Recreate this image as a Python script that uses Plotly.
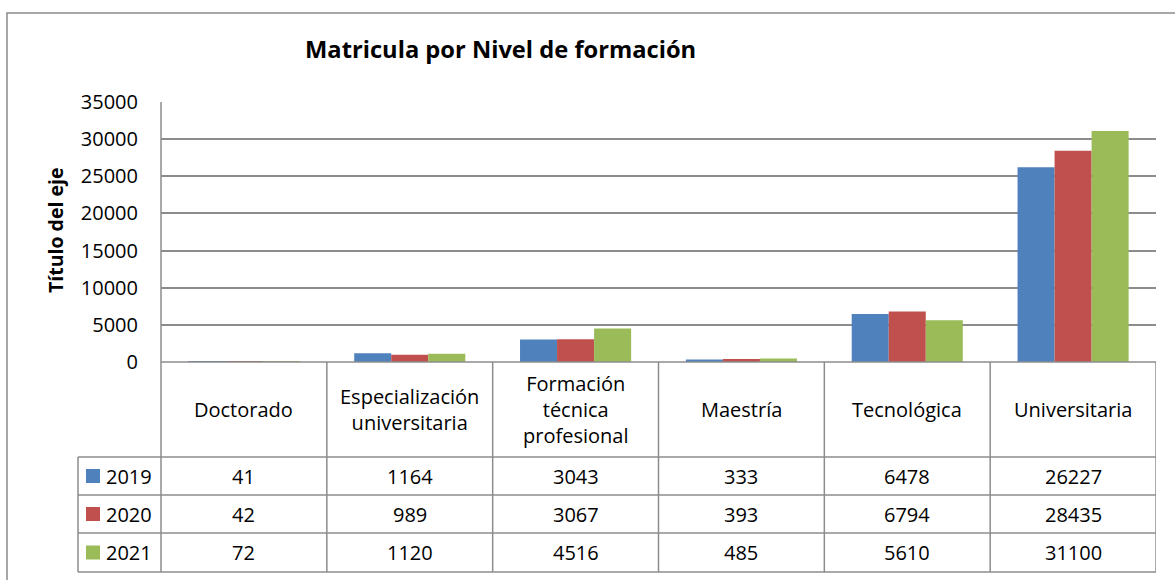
import plotly.graph_objects as go

# Enrolment by training level, three years
categories = ["Doctorado", "Especialización<br>universitaria", "Formación<br>técnica<br>profesional",
              "Maestría", "Tecnológica", "Universitaria"]
years = ["2019", "2020", "2021"]
v2019 = [41, 1164, 3043, 333, 6478, 26227]
v2020 = [42, 989, 3067, 393, 6794, 28435]
v2021 = [72, 1120, 4516, 485, 5610, 31100]
y_ticks = [0, 5000, 10000, 15000, 20000, 25000, 30000, 35000]

series = [v2019, v2020, v2021]
colors = ["#4F81BD", "#C0504D", "#9BBB59"]

W, H = 1175, 580
FONT = "Open Sans"
FS = 20
GRID = "#8C8C8C"

def px(x):
    return x / W

def py(y):
    return (H - y) / H

# plot area and table geometry (pixels)
PL, PR, PT, PB = 161, 1156, 102, 362
LEG_L = 78
ROW_EDGES = [457, 495, 533, 572]

fig = go.Figure()
xs = list(range(len(categories)))
for name, vals, col in zip(years, series, colors):
    fig.add_trace(go.Bar(x=xs, y=vals, name=name, marker=dict(color=col, line=dict(width=0)),
                         showlegend=False))

shapes = []
annotations = []

# outer chart border
shapes.append(dict(type="rect", xref="paper", yref="paper", x0=px(7), y0=py(13), x1=px(1200),
                   y1=py(620), line=dict(color="#8A8A8A", width=1.5)))

# table lines
line = dict(color=GRID, width=1.5)
shapes.append(dict(type="line", xref="paper", yref="paper", x0=px(PL), x1=px(PR), y0=py(PB), y1=py(PB), line=line))
shapes.append(dict(type="line", xref="paper", yref="paper", x0=px(PL), x1=px(PL), y0=py(PT), y1=py(ROW_EDGES[-1]), line=line))
for r in ROW_EDGES:
    shapes.append(dict(type="line", xref="paper", yref="paper", x0=px(LEG_L), x1=px(PR), y0=py(r), y1=py(r), line=line))
shapes.append(dict(type="line", xref="paper", yref="paper", x0=px(LEG_L), x1=px(LEG_L), y0=py(ROW_EDGES[0]), y1=py(ROW_EDGES[-1]), line=line))
for i in range(len(categories)):
    shapes.append(dict(type="line", xref="x", yref="paper", x0=i + 0.5, x1=i + 0.5, y0=py(PB), y1=py(ROW_EDGES[-1]), line=line))

txt = dict(family=FONT, size=FS, color="#000000")

# category headers
for i, c in enumerate(categories):
    annotations.append(dict(x=i, xref="x", y=py((PB + ROW_EDGES[0]) / 2), yref="paper", text=c,
                            showarrow=False, font=txt, xanchor="center", yanchor="middle"))

# data rows with legend keys
for k, (name, vals, col) in enumerate(zip(years, series, colors)):
    yc = (ROW_EDGES[k] + ROW_EDGES[k + 1]) / 2
    shapes.append(dict(type="rect", xref="paper", yref="paper", x0=px(86), x1=px(100), y0=py(yc - 7), y1=py(yc + 7),
                       fillcolor=col, line=dict(width=0)))
    annotations.append(dict(x=px(104), xref="paper", y=py(yc), yref="paper", text=name, showarrow=False,
                            font=txt, xanchor="left", yanchor="middle"))
    for i, v in enumerate(vals):
        annotations.append(dict(x=i, xref="x", y=py(yc), yref="paper", text=str(v), showarrow=False,
                                font=txt, xanchor="center", yanchor="middle"))

# title and axis title
annotations.append(dict(x=px(500), xref="paper", y=py(49), yref="paper", text="<b>Matricula por Nivel de formación</b>",
                        showarrow=False, font=dict(family=FONT, size=23.7, color="#000000"), xanchor="center", yanchor="middle"))
annotations.append(dict(x=px(56), xref="paper", y=py(231), yref="paper", text="<b>Título del eje</b>", textangle=-90,
                        showarrow=False, font=dict(family=FONT, size=19.5, color="#000000"), xanchor="center", yanchor="middle"))

fig.update_layout(
    width=W, height=H,
    margin=dict(l=0, r=0, t=0, b=0, pad=0, autoexpand=False),
    paper_bgcolor="white", plot_bgcolor="white",
    barmode="group", bargap=0.33, bargroupgap=0,
    xaxis=dict(domain=[px(PL), px(PR)], range=[-0.5, len(categories) - 0.5], showticklabels=False,
               showgrid=False, zeroline=False, showline=False, fixedrange=True, automargin=False),
    yaxis=dict(domain=[py(PB), py(PT)], range=[0, 35000], tickvals=y_ticks, ticktext=[str(t) for t in y_ticks],
               showgrid=True, gridcolor=GRID, gridwidth=1.5, zeroline=False, showline=False, automargin=False,
               tickfont=txt, ticks="", ticklabelstandoff=22),
    shapes=shapes, annotations=annotations,
)

fig.write_html("out.html")
